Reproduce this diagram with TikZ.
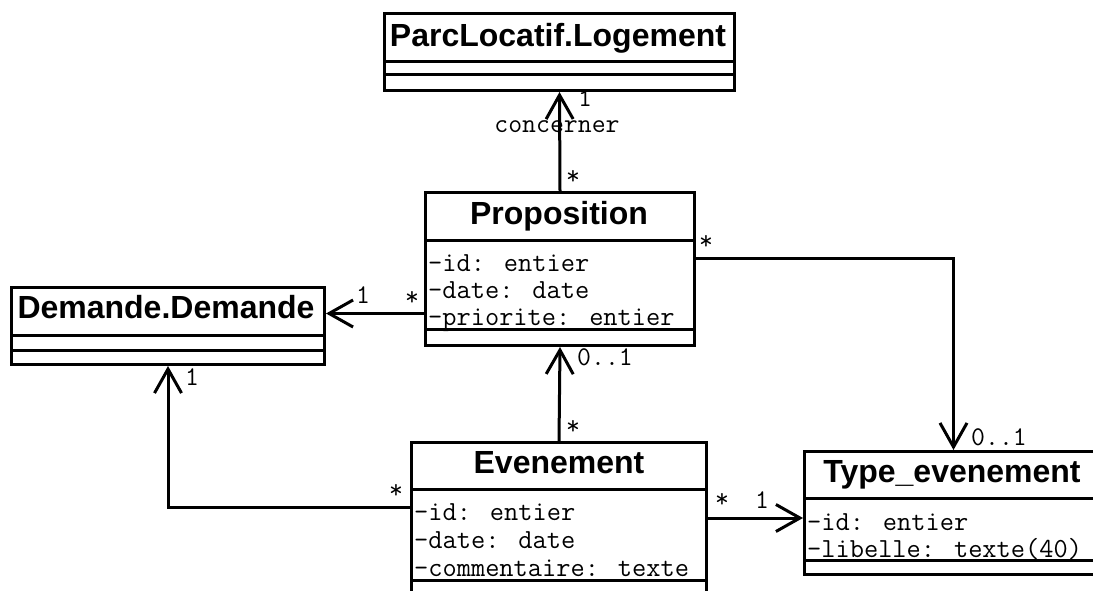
\documentclass[tikz,border=0pt]{standalone}
\usepackage{fontspec}
\setmainfont{Liberation Sans}
\usetikzlibrary{arrows.meta}
\begin{document}
\begin{tikzpicture}[x=1pt,y=-1pt,
  classbox/.style={draw, line width=3pt, inner sep=0pt, anchor=north west},
  rule/.style={line width=3pt},
  title/.style={anchor=base, inner sep=0pt, font=\fontsize{32}{32}\selectfont\bfseries},
  attr/.style={anchor=base west, inner sep=0pt, font=\fontsize{27.6}{27.6}\ttfamily},
  mult/.style={inner sep=0pt, font=\fontsize{27}{27}\ttfamily},
  assoc/.style={line width=3pt, -{Straight Barb[length=24pt,width=27pt,line width=3pt]}},
]
\useasboundingbox (0,0) rectangle (1093,591);

% ---- ParcLocatif.Logement
\node[classbox, minimum width=350pt, minimum height=77pt] (log) at (383,12) {};
\draw[rule] (log.west |- 0,62) -- (log.east |- 0,62);
\draw[rule] (log.west |- 0,75) -- (log.east |- 0,75);
\node[title] (logT) at (558,47) {ParcLocatif.Logement};

% ---- Proposition
\node[classbox, minimum width=269pt, minimum height=153pt] (prop) at (424,191) {};
\draw[rule] (prop.west |- 0,240) -- (prop.east |- 0,240);
\draw[rule] (prop.west |- 0,329) -- (prop.east |- 0,329);
\node[title] (propT) at (559,225) {Proposition};
\node[attr] (propA1) at (428,271) {-id: entier};
\node[attr] (propA2) at (428,298) {-date: date};
\node[attr] (propA3) at (428,325) {-priorite: entier};

% ---- Demande.Demande
\node[classbox, minimum width=313pt, minimum height=77pt] (dem) at (10,286) {};
\draw[rule] (dem.west |- 0,335) -- (dem.east |- 0,335);
\draw[rule] (dem.west |- 0,350) -- (dem.east |- 0,350);
\node[title] (demT) at (166,318) {Demande.Demande};

% ---- Evenement (runs past the lower edge)
\node[classbox, minimum width=295pt, minimum height=160pt] (evt) at (410,441) {};
\draw[rule] (evt.west |- 0,489) -- (evt.east |- 0,489);
\draw[rule] (evt.west |- 0,580) -- (evt.east |- 0,580);
\node[title] (evtT) at (559,473) {Evenement};
\node[attr] (evtA1) at (414,520) {-id: entier};
\node[attr] (evtA2) at (414,548) {-date: date};
\node[attr] (evtA3) at (414,576) {-commentaire: texte};

% ---- Type_evenement (runs past the right edge)
\node[classbox, minimum width=298pt, minimum height=123pt] (typ) at (803,450) {};
\draw[rule] (typ.west |- 0,498) -- (typ.east |- 0,498);
\draw[rule] (typ.west |- 0,560) -- (typ.east |- 0,560);
\node[title] (typT) at (952,482) {Type\_evenement};
\node[attr] (typA1) at (807,530) {-id: entier};
\node[attr] (typA2) at (807,557) {-libelle: texte(40)};

% ---- associations
\draw[assoc] (prop.north) -- (log.south);
\node[mult] (m1) at (585,107) [anchor=base] {1};
\node[mult] (lab) at (557,133) [anchor=base] {concerner};
\node[mult] (m2) at (573,177) {*};

\coordinate (pd) at ([yshift=-44.5pt]prop.west);
\draw[assoc] (pd) -- (pd -| dem.east);
\node[mult] (m3) at (363,303) [anchor=base] {1};
\node[mult] (m4) at (412,298) {*};

\draw[assoc] (evt.north) -- (prop.south);
\node[mult] (m5) at (605,365) [anchor=base] {0..1};
\node[mult] (m6) at (573,427) {*};

\coordinate (ed) at ([yshift=15pt]evt.west);
\draw[assoc] (ed) -| (dem.south);
\node[mult] (m7) at (192,385) [anchor=base] {1};
\node[mult] (m8) at (396,491) {*};

\coordinate (et) at ([yshift=4.5pt]evt.east);
\draw[assoc] (et) -- (et -| typ.west);
\node[mult] (m9) at (722,500) {*};
\node[mult] (m10) at (762,508) [anchor=base] {1};

\coordinate (pt) at ([yshift=10.5pt]prop.east);
\draw[assoc] (pt) -| (typ.north);
\node[mult] (m11) at (706,242) {*};
\node[mult] (m12) at (999,445) [anchor=base] {0..1};
\end{tikzpicture}
\end{document}
